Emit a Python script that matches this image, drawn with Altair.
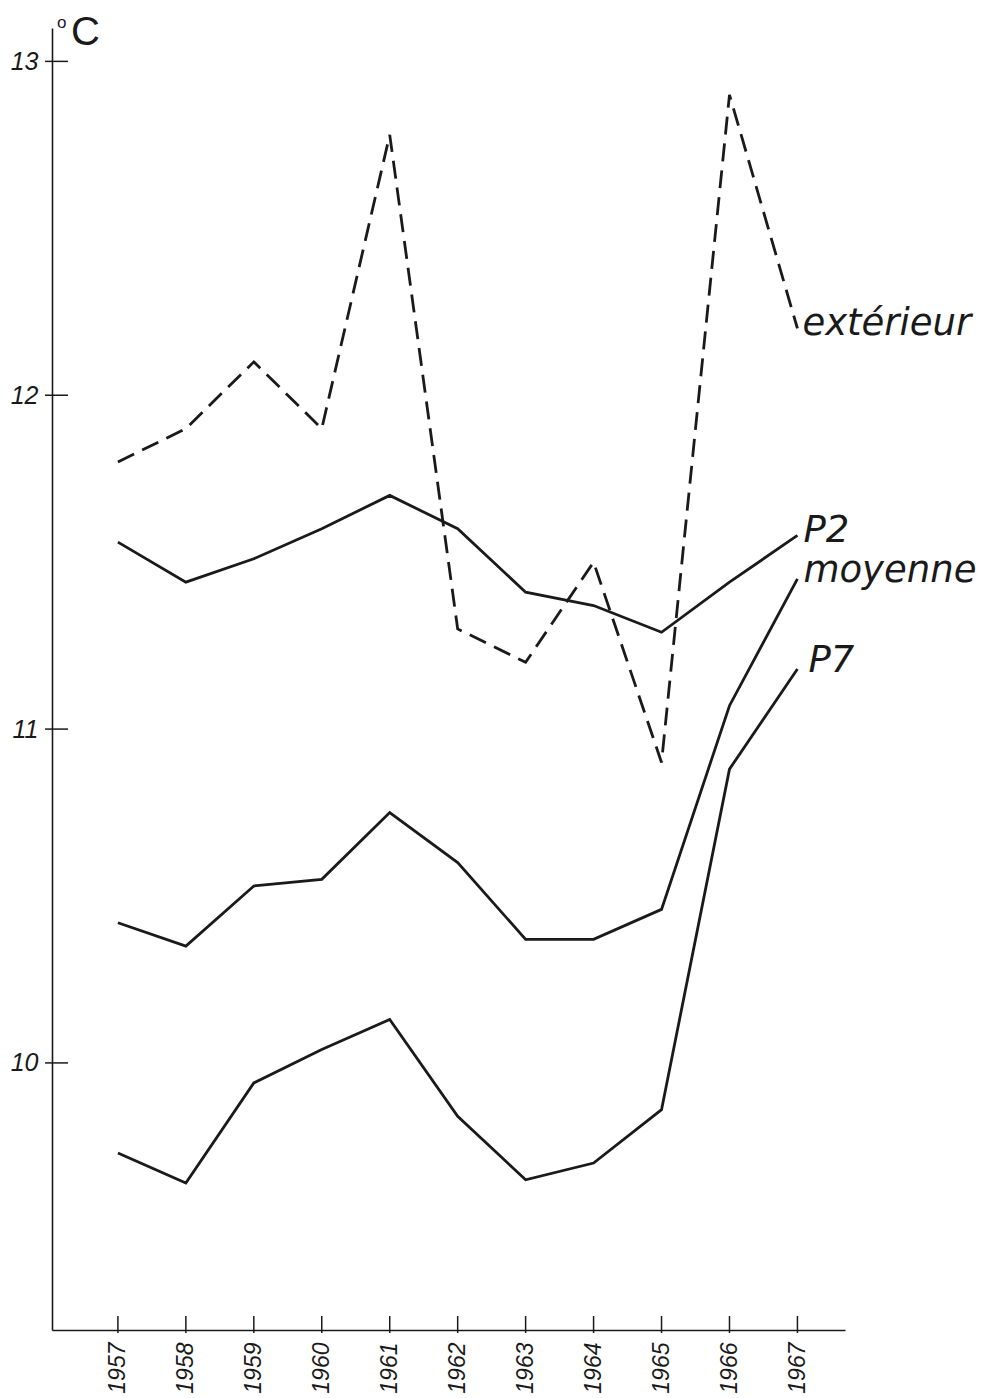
import altair as alt
import pandas as pd

years = [1957, 1958, 1959, 1960, 1961, 1962, 1963, 1964, 1965, 1966, 1967]
exterieur = [11.8, 11.9, 12.1, 11.9, 12.78, 11.3, 11.2, 11.5, 10.9, 12.9, 12.2]
p2 = [11.56, 11.44, 11.51, 11.6, 11.7, 11.6, 11.41, 11.37, 11.29, 11.44, 11.58]
moyenne = [10.42, 10.35, 10.53, 10.55, 10.75, 10.6, 10.37, 10.37, 10.46, 11.07, 11.45]
p7 = [9.73, 9.64, 9.94, 10.04, 10.13, 9.84, 9.65, 9.70, 9.86, 10.88, 11.18]
y_ticks = [10, 11, 12, 13]

series = {"extérieur": exterieur, "P2": p2, "moyenne": moyenne, "P7": p7}
rows = []
for name, vals in series.items():
    for yr, v in zip(years, vals):
        rows.append({"year": yr, "value": v, "series": name})
df = pd.DataFrame(rows)

W, H = 793, 1302
INK = "#1a1a1a"

xs = alt.Scale(domain=[1956.03, 1967.7], nice=False, zero=False)
ys = alt.Scale(domain=[9.2, 13.1], nice=False, zero=False)

x_enc = alt.X("year:Q", scale=xs, axis=alt.Axis(
    values=years, format="d", labelAngle=270, labelPadding=12, ticks=False, grid=False,
    domain=True, domainColor=INK, domainWidth=1.6, labelFontSize=23,
    labelFontStyle="italic", labelColor=INK, title=None))
y_enc = alt.Y("value:Q", scale=ys, axis=alt.Axis(
    values=y_ticks, format="d", labelPadding=14, ticks=False, grid=False, domain=True,
    domainColor=INK, domainWidth=1.6, labelFontSize=25, labelFontStyle="italic",
    labelColor=INK, title=None))

solid = alt.Chart(df).transform_filter(alt.datum.series != "extérieur").mark_line(
    color=INK, strokeWidth=2.8).encode(x=x_enc, y=y_enc, detail="series:N", order="year:Q")

dashed = alt.Chart(df).transform_filter(alt.datum.series == "extérieur").mark_line(
    color=INK, strokeWidth=2.8, strokeDash=[18, 9]).encode(
    x=alt.X("year:Q", scale=xs), y=alt.Y("value:Q", scale=ys), order="year:Q")

xt = pd.DataFrame({"year": years})
xticks = alt.Chart(xt).mark_rule(color=INK, strokeWidth=1.5).encode(
    x=alt.X("year:Q", scale=xs), y=alt.value(H - 14), y2=alt.value(H + 3))

yt = pd.DataFrame({"value": y_ticks})
yticks = alt.Chart(yt).mark_rule(color=INK, strokeWidth=1.5).encode(
    y=alt.Y("value:Q", scale=ys), x=alt.value(-7), x2=alt.value(16))

last = df[df.year == years[-1]]

def lab(name, dx, dy):
    return alt.Chart(last[last.series == name]).mark_text(
        align="left", baseline="alphabetic", dx=dx, dy=dy, fontSize=37,
        fontStyle="italic", font="DejaVu Sans", color=INK).encode(
        x=alt.X("year:Q", scale=xs), y=alt.Y("value:Q", scale=ys), text="series:N")

labels = lab("extérieur", 5, 7) + lab("P2", 6, 7) + lab("moyenne", 6, 3) + lab("P7", 11, 3)

unit_o = alt.Chart(pd.DataFrame({"t": ["o"]})).mark_text(
    align="left", baseline="alphabetic", fontSize=17, font="Liberation Sans", color=INK).encode(
    text="t:N", x=alt.value(5), y=alt.value(0))
unit_c = alt.Chart(pd.DataFrame({"t": ["C"]})).mark_text(
    align="left", baseline="alphabetic", fontSize=40, font="Liberation Sans",
    color=INK).encode(text="t:N", x=alt.value(19), y=alt.value(17))

chart = alt.layer(solid, dashed, xticks, yticks, labels, unit_o, unit_c).properties(
    width=W, height=H,
    autosize=alt.AutoSizeParams(type="none"),
    padding={"left": 44, "top": 20, "right": 136, "bottom": 66},
).configure_view(stroke=None).configure_axis(labelFont="Liberation Sans")

chart.save("out.html", embed_options={"renderer": "svg", "actions": False})
